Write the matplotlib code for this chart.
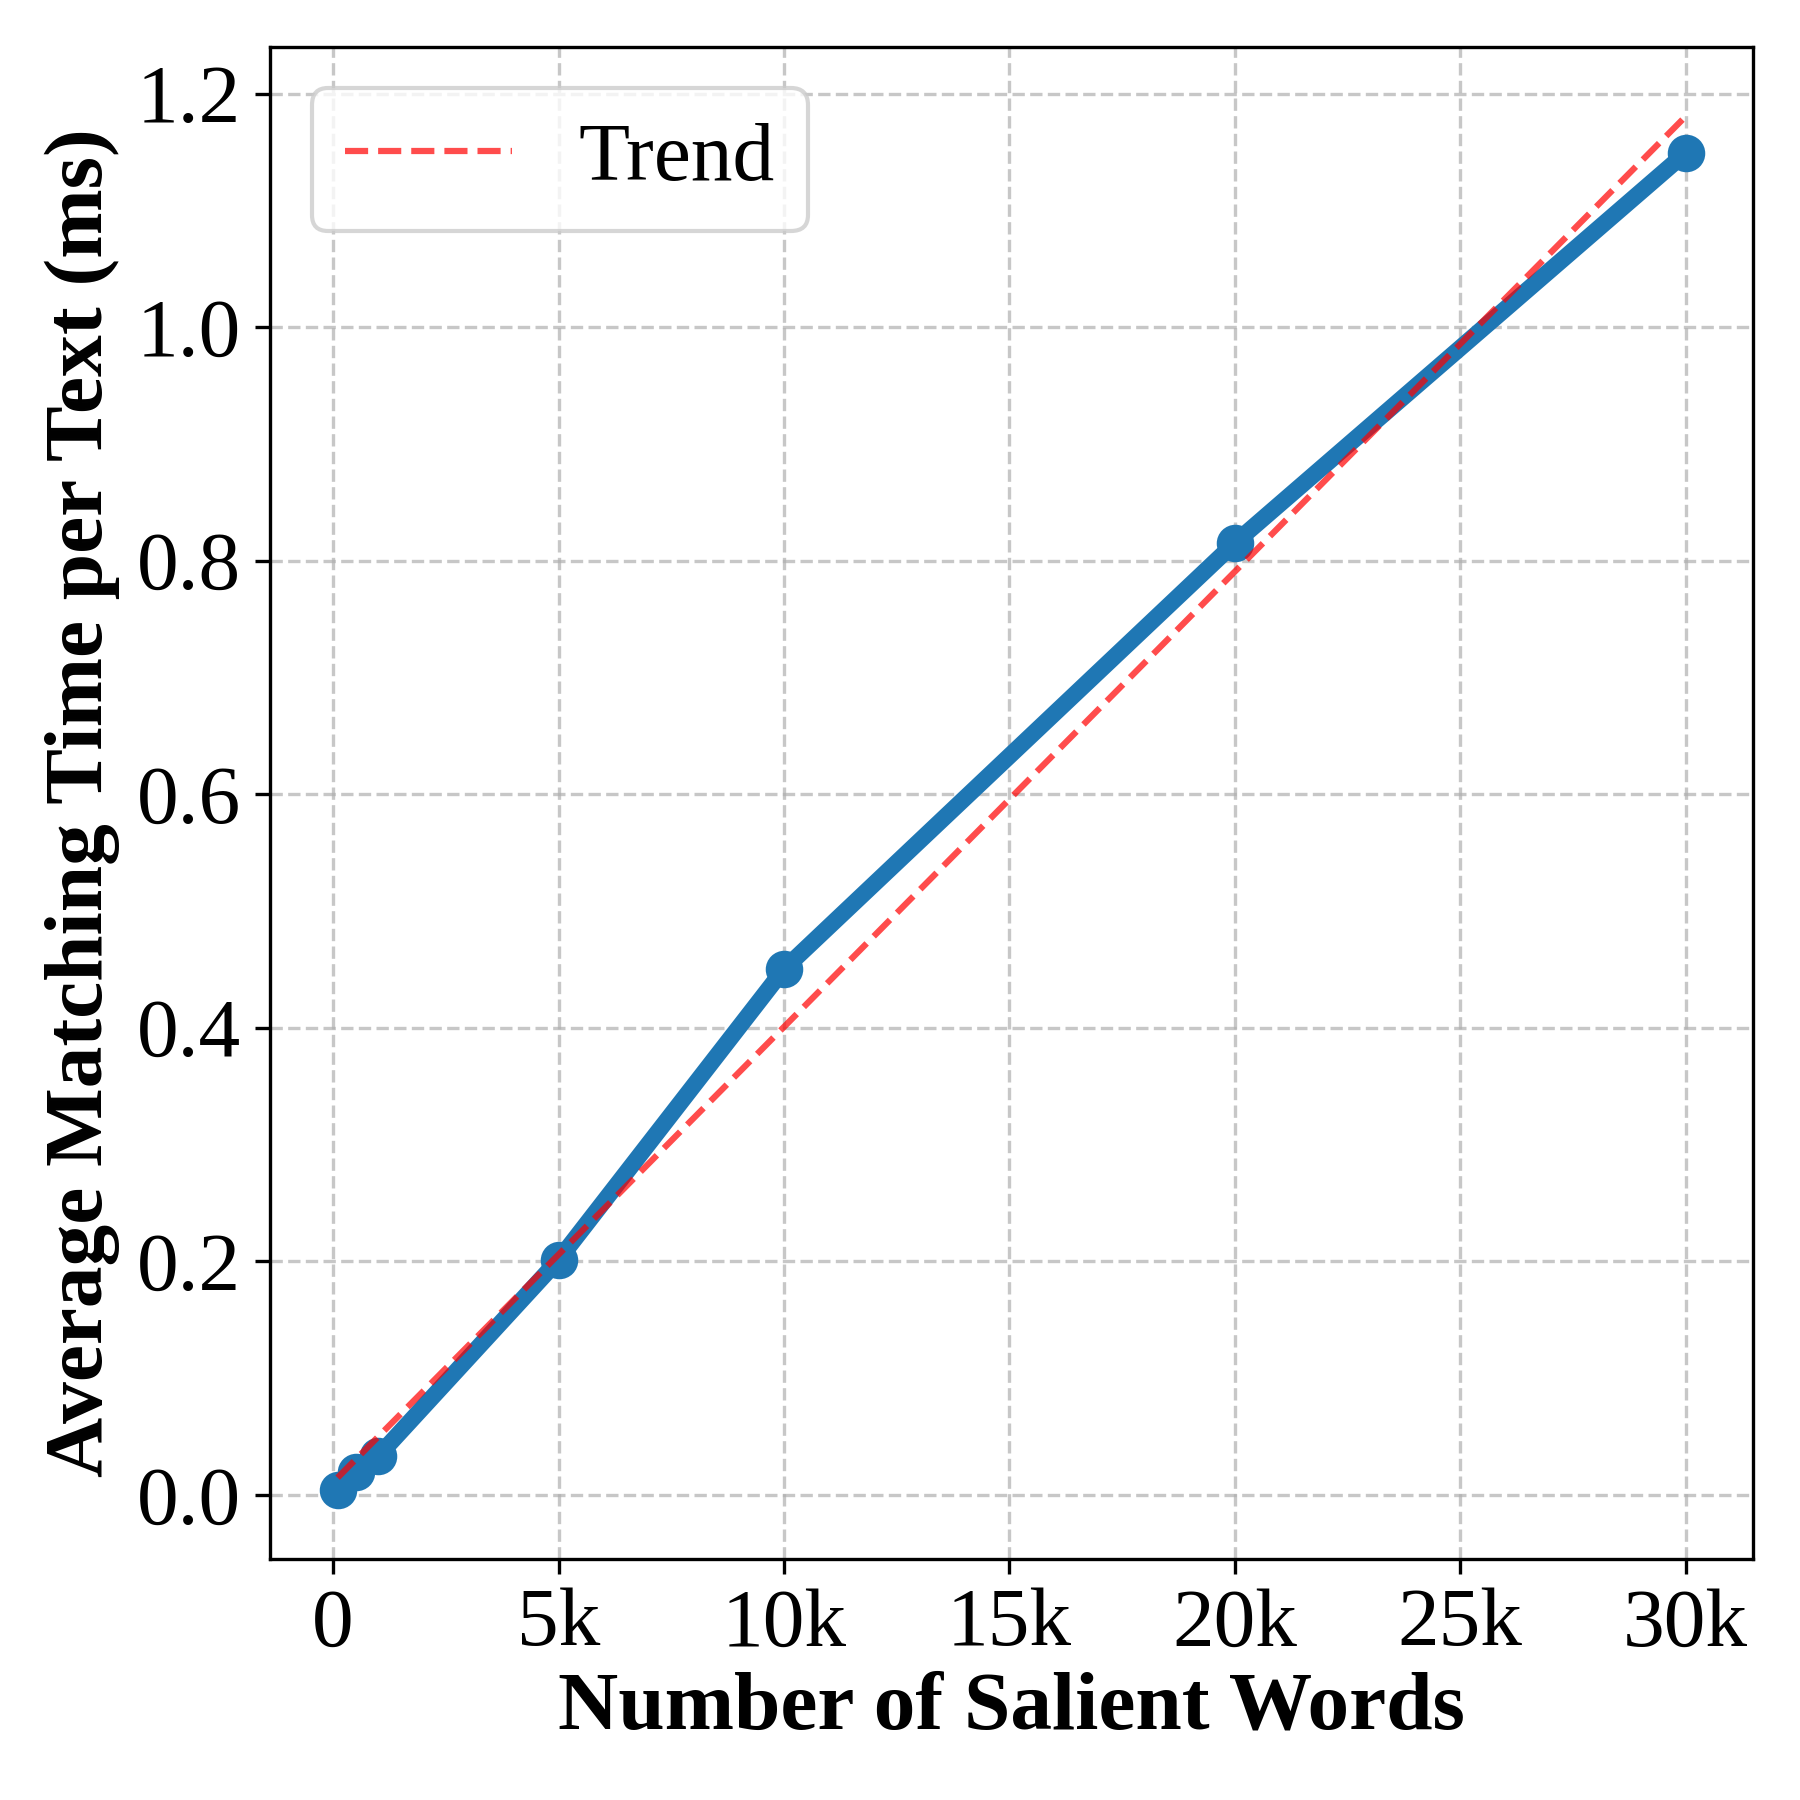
import numpy as np
import matplotlib.pyplot as plt

plt.rcParams["font.family"] = ["Liberation Serif", "DejaVu Serif"]

# salient word counts and average matching time (ms)
num_words = [100, 500, 1000, 5000, 10000, 20000, 30000]
match_time = [0.004, 0.019, 0.033, 0.201, 0.450, 0.815, 1.149]
xtick_vals = [0, 5000, 10000, 15000, 20000, 25000, 30000]
xtick_labels = ["0", "5k", "10k", "15k", "20k", "25k", "30k"]

fig = plt.figure(figsize=(6, 6), dpi=300)
ax = fig.add_axes([0.15, 0.134, 0.824, 0.84])

ax.plot(num_words, match_time, "o-", color="#1f77b4", linewidth=4, markersize=8)

# linear trend fitted to the measurements
coef = np.polyfit(num_words, match_time, 1)
fit_x = np.array([num_words[0], num_words[-1]])
ax.plot(fit_x, np.polyval(coef, fit_x), "r--", alpha=0.7, linewidth=1.5, label="Trend")

ax.set_xticks(xtick_vals)
ax.set_xticklabels(xtick_labels)
ax.set_ylim(-0.055, 1.24)
ax.set_xlim(-1400, 31500)
ax.tick_params(labelsize=20)
ax.grid(True, linestyle="--", alpha=0.7)
ax.set_xlabel("Number of Salient Words", fontsize=20, fontweight="bold", labelpad=2)
ax.set_ylabel("Average Matching Time per Text (ms)", fontsize=20, fontweight="bold", labelpad=4)
ax.legend(fontsize=20, loc="upper left")

fig.savefig("out.png", dpi=300)
